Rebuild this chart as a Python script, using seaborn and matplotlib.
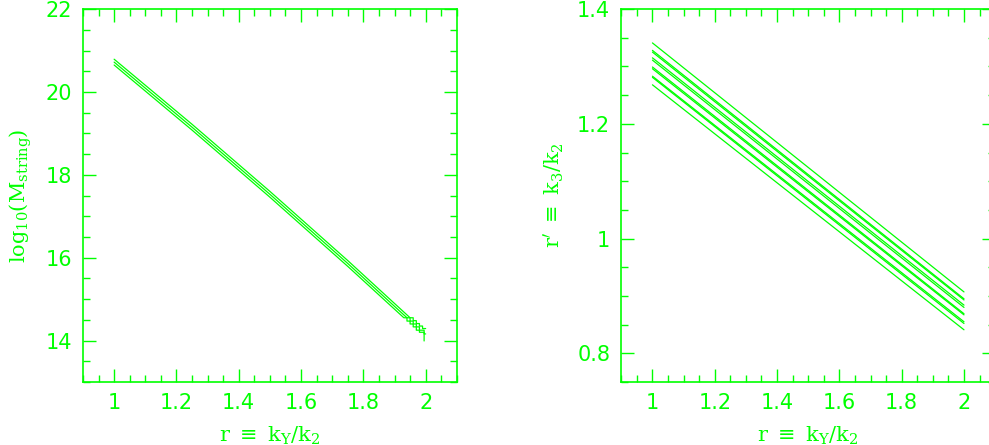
"""Two-panel string-mass / ratio plot in the old SM green-on-white look."""

import matplotlib

matplotlib.use("Agg")
import matplotlib.pyplot as plt
import pandas as pd
import seaborn as sns
from matplotlib.ticker import FuncFormatter, MultipleLocator

GREEN = "#00ff00"

# Left panel: log10(M_string) vs r, three curves (with the step-like ends)
top_r = [1.0, 1.25, 1.5, 1.75, 1.95, 1.96, 1.96, 1.97, 1.97, 1.98, 1.98, 1.99, 1.99, 2.0]
top_m = [20.79, 19.22, 17.60, 15.93, 14.55, 14.55, 14.48, 14.48, 14.41, 14.41, 14.35, 14.35, 14.29, 14.29]

mid_r = [1.0, 1.25, 1.5, 1.75, 1.94, 1.95, 1.95, 1.96, 1.96, 1.97, 1.97, 1.98, 1.98, 1.995, 1.995, 2.0]
mid_m = [20.72, 19.15, 17.53, 15.86, 14.55, 14.55, 14.47, 14.47, 14.40, 14.40, 14.33, 14.33, 14.25, 14.25, 14.16, 14.16]

bot_r = [1.0, 1.25, 1.5, 1.75, 1.93, 1.94, 1.94, 1.95, 1.95, 1.96, 1.96, 1.97, 1.97, 1.98, 1.98, 1.995, 1.995]
bot_m = [20.65, 19.08, 17.46, 15.79, 14.55, 14.55, 14.47, 14.47, 14.40, 14.40, 14.33, 14.33, 14.25, 14.25, 14.20, 14.20, 13.99]

# Right panel: r' = k3/k2 at r = 1 and r = 2 for each curve
r_ends = [1.0, 2.0]
rprime_start = [1.341, 1.328, 1.325, 1.315, 1.311, 1.299, 1.296, 1.283, 1.281, 1.268]
rprime_end = [0.907, 0.895, 0.893, 0.884, 0.880, 0.869, 0.867, 0.855, 0.852, 0.841]

left_df = pd.concat(
    [
        pd.DataFrame({"r": xs, "logM": ys, "curve": i})
        for i, (xs, ys) in enumerate([(top_r, top_m), (mid_r, mid_m), (bot_r, bot_m)])
    ],
    ignore_index=True,
)
right_df = pd.concat(
    [
        pd.DataFrame({"r": r_ends, "rprime": [s, e], "curve": i})
        for i, (s, e) in enumerate(zip(rprime_start, rprime_end))
    ],
    ignore_index=True,
)

sns.set_theme(style="ticks")
plt.rcParams["font.family"] = ["DejaVu Sans"]
plt.rcParams["mathtext.fontset"] = "dejavuserif"
plt.rcParams["axes.edgecolor"] = GREEN
plt.rcParams["axes.linewidth"] = 1.2

fig = plt.figure(figsize=(9.89, 4.45), dpi=100)
ax1 = fig.add_axes([0.0839, 0.1416, 0.378, 0.838])
ax2 = fig.add_axes([0.6282, 0.1416, 0.378, 0.838])

sns.lineplot(data=left_df, x="r", y="logM", units="curve", estimator=None,
             sort=False, color=GREEN, lw=0.9, ax=ax1)
sns.lineplot(data=right_df, x="r", y="rprime", units="curve", estimator=None,
             sort=False, color=GREEN, lw=0.9, ax=ax2)

fmt = FuncFormatter(lambda v, _: f"{v:g}")
label_font = {"family": "DejaVu Serif", "size": 15, "color": GREEN}

for ax in (ax1, ax2):
    ax.set_xlim(0.9, 2.1)
    ax.xaxis.set_major_locator(MultipleLocator(0.2))
    ax.xaxis.set_minor_locator(MultipleLocator(0.05))
    ax.xaxis.set_major_formatter(fmt)
    ax.yaxis.set_major_formatter(fmt)
    ax.tick_params(which="both", direction="in", top=True, right=True,
                   color=GREEN, labelcolor=GREEN, width=1.0, labelsize=15)
    ax.tick_params(which="major", length=9.5, pad=8)
    ax.tick_params(which="minor", length=5)
    ax.set_xlabel(r"r $\equiv$ k$_{\rm Y}$/k$_2$", fontdict=label_font, labelpad=8)

ax1.set_ylim(13, 22)
ax1.yaxis.set_major_locator(MultipleLocator(2))
ax1.yaxis.set_minor_locator(MultipleLocator(0.5))
ax1.set_ylabel(r"log$_{10}$(M$_{\rm string}$)", fontdict=label_font, labelpad=8)

ax2.set_ylim(0.75, 1.4)
ax2.yaxis.set_major_locator(MultipleLocator(0.2))
ax2.yaxis.set_minor_locator(MultipleLocator(0.05))
ax2.set_ylabel(r"r$'$ $\equiv$ k$_3$/k$_2$", fontdict=label_font, labelpad=8)

fig.savefig("out.png", dpi=100, facecolor="white")
